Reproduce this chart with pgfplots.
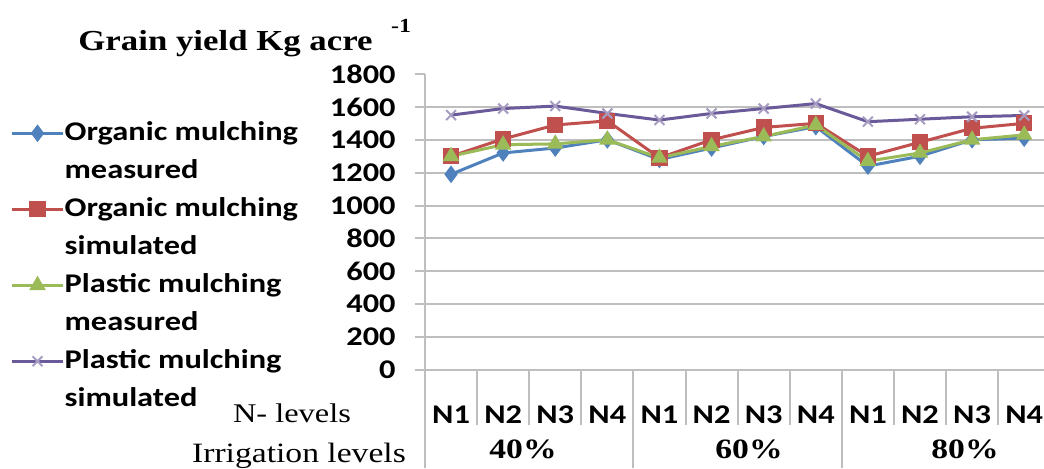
\documentclass[border=0pt]{standalone}
\usepackage{pgfplots}
\pgfplotsset{compat=1.18}
\usepackage{fontspec}
\setmainfont{Liberation Serif}[FakeStretch=1.2]
\newfontfamily\calibri{Carlito}[FakeStretch=1.2]
\definecolor{cblue}{HTML}{4F81BD}
\definecolor{cred}{HTML}{C0504D}
\definecolor{cgreen}{HTML}{9BBB59}
\definecolor{cpurple}{HTML}{6A5A9A}
\definecolor{gridgray}{HTML}{BEBEBE}
\begin{document}
\begin{tikzpicture}[x=1pt,y=1pt]
\useasboundingbox (0,0) rectangle (522,234);
\begin{axis}[
  at={(212.5pt,49pt)}, anchor=south west,
  scale only axis, width=309.5pt, height=148pt,
  xmin=-0.5, xmax=11.38, ymin=0, ymax=1800,
  clip=false,
  axis x line*=bottom, axis y line*=left,
  axis line style={-, draw=gridgray, line width=1pt},
  xtick={0,...,11},
  xticklabels={N1,N2,N3,N4,N1,N2,N3,N4,N1,N2,N3,N4},
  xtick style={draw=none},
  xticklabel style={font=\calibri\bfseries\fontsize{13.5}{16}\selectfont, anchor=base, yshift=-21.5pt, inner sep=0pt},
  ytick={0,200,...,1600},
  extra y ticks={1800},
  extra y tick style={grid=none},
  ymajorgrids,
  grid style={draw=gridgray, line width=1pt},
  tick align=outside,
  major tick length=5pt,
  ytick style={draw=gridgray, line width=1pt},
  yticklabel style={font=\calibri\bfseries\fontsize{13.5}{16}\selectfont, anchor=east, inner sep=0pt, xshift=-9.5pt},
  /pgf/number format/1000 sep={},
  /pgf/number format/assume math mode=true,
  legend style={draw=none, fill=none, inner sep=0pt,
    at={(axis description cs:-0.6704,0.845)}, anchor=north west,
    font=\calibri\bfseries\fontsize{13.5}{16}\selectfont,
    nodes={text height=10pt, text depth=3pt, inner ysep=0pt, inner xsep=0pt},
    row sep=6pt, column sep=0pt},
  legend cell align=left,
  legend image code/.code={\draw[mark repeat=2,mark phase=2,#1] plot coordinates {(0cm,0cm) (0.45cm,0cm) (0.9cm,0cm)};},
  every axis plot/.append style={line width=1.5pt},
]
\addplot[color=cblue, mark=diamond*, mark size=3.2pt, mark options={solid}] coordinates {
(0,1190) (1,1320) (2,1350) (3,1400) (4,1280) (5,1350) (6,1420) (7,1480) (8,1240) (9,1300) (10,1400) (11,1410)};
\addlegendentry{Organic mulching}
\addlegendimage{empty legend}
\addlegendentry{measured}
\addplot[color=cred, mark=square*, mark size=3.3pt] coordinates {
(0,1300) (1,1405) (2,1490) (3,1515) (4,1290) (5,1400) (6,1475) (7,1500) (8,1300) (9,1385) (10,1470) (11,1500)};
\addlegendentry{Organic mulching}
\addlegendimage{empty legend}
\addlegendentry{simulated}
\addplot[color=cgreen, mark=triangle*, mark size=3.3pt] coordinates {
(0,1300) (1,1370) (2,1375) (3,1400) (4,1290) (5,1360) (6,1420) (7,1490) (8,1270) (9,1320) (10,1400) (11,1430)};
\addlegendentry{Plastic mulching}
\addlegendimage{empty legend}
\addlegendentry{measured}
\addplot[color=cpurple, mark=x, mark size=3.5pt, mark options={line width=1pt, color=cpurple!60}] coordinates {
(0,1550) (1,1590) (2,1605) (3,1560) (4,1520) (5,1560) (6,1590) (7,1620) (8,1510) (9,1525) (10,1540) (11,1548)};
\addlegendentry{Plastic mulching}
\addlegendimage{empty legend}
\addlegendentry{simulated}
\pgfplotsinvokeforeach{0.5,1.5,2.5,4.5,5.5,6.5,8.5,9.5,10.5}{
  \draw[gridgray, line width=1pt] (axis cs:#1,0) -- ++(0pt,-27.5pt);
}
\pgfplotsinvokeforeach{-0.5,3.5,7.5,11.5}{
  \draw[gridgray, line width=1pt] (axis cs:#1,0) -- ++(0pt,-49pt);
}
\end{axis}
\node[font=\bfseries\fontsize{14.5}{16}\selectfont, anchor=base] at (112.75,209) {Grain yield Kg acre};
\node[font=\bfseries\fontsize{10}{12}\selectfont, anchor=base] at (200.5,218) {-1};
\node[font=\fontsize{13.5}{16}\selectfont, anchor=base] at (146,23) {N- levels};
\node[font=\fontsize{14}{16}\selectfont, anchor=base] at (149.5,3) {Irrigation levels};
\node[font=\bfseries\fontsize{14}{16}\selectfont, anchor=base] at (261.5,5) {40\%};
\node[font=\bfseries\fontsize{14}{16}\selectfont, anchor=base] at (374.5,5) {60\%};
\node[font=\bfseries\fontsize{14}{16}\selectfont, anchor=base] at (482.5,5) {80\%};
\end{tikzpicture}
\end{document}
